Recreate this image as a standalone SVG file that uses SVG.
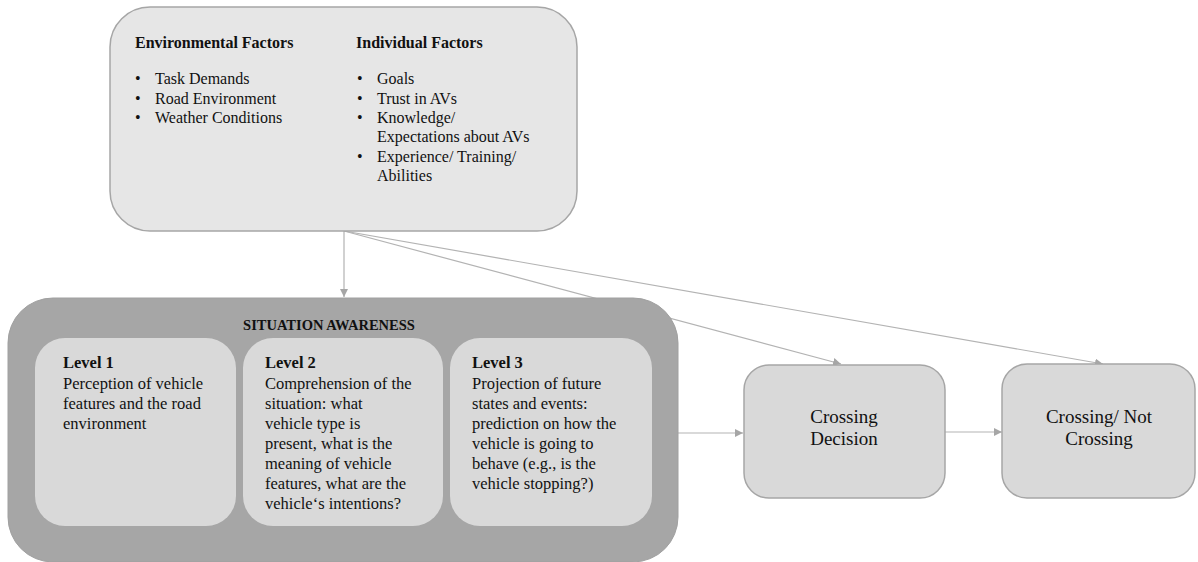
<svg xmlns="http://www.w3.org/2000/svg" width="1198" height="562" viewBox="0 0 1198 562" font-family="'Liberation Serif', 'Times New Roman', Times, serif">
<style>
text{font-family:'Liberation Serif','Times New Roman',Times,serif;fill:#111;}
.b{font-weight:bold;}
.f{font-size:16px;}
.lv{font-size:16.5px;}
.big{font-size:19px;text-anchor:middle;}
.conn{stroke:#b3b3b3;stroke-width:1.2;fill:none;marker-end:url(#ah);}
</style>
<defs>
<marker id="ah" viewBox="0 0 10 10" refX="10" refY="5" markerWidth="8" markerHeight="8" markerUnits="userSpaceOnUse" orient="auto">
<path d="M0,0 L10,5 L0,10 z" fill="#a6a6a6"/>
</marker>
</defs>
<g id="connectors">
<line class="conn" x1="344" y1="231" x2="344" y2="297"/>
<line class="conn" x1="344" y1="231" x2="841" y2="364"/>
<line class="conn" x1="344" y1="231" x2="1103" y2="364"/>
<line class="conn" x1="678" y1="433" x2="743" y2="433"/>
<line class="conn" x1="945" y1="432" x2="1002" y2="432"/>
</g>
<g id="factors">
<rect x="110" y="7" width="467" height="224" rx="40" fill="#e6e6e6" stroke="#a6a6a6" stroke-width="1.5"/>
<text class="b f" x="135" y="48">Environmental Factors</text>
<text class="f" x="135" y="84">•</text><text class="f" x="155" y="84">Task Demands</text>
<text class="f" x="135" y="104">•</text><text class="f" x="155" y="104">Road Environment</text>
<text class="f" x="135" y="123">•</text><text class="f" x="155" y="123">Weather Conditions</text>
<text class="b f" x="356" y="48">Individual Factors</text>
<text class="f" x="357" y="84">•</text><text class="f" x="377" y="84">Goals</text>
<text class="f" x="357" y="104">•</text><text class="f" x="377" y="104">Trust in AVs</text>
<text class="f" x="357" y="123">•</text><text class="f" x="377" y="123">Knowledge/</text>
<text class="f" x="377" y="142">Expectations about AVs</text>
<text class="f" x="357" y="162">•</text><text class="f" x="377" y="162">Experience/ Training/</text>
<text class="f" x="377" y="181">Abilities</text>
</g>
<g id="situation-awareness">
<rect x="8" y="298" width="670" height="264" rx="45" fill="#a6a6a6" stroke="#a0a0a0" stroke-width="1"/>
<text class="b" x="329" y="330" font-size="14.5" text-anchor="middle">SITUATION AWARENESS</text>
</g>
<g id="level1">
<rect x="35" y="338" width="201" height="188" rx="30" fill="#d9d9d9"/>
<text class="b lv" x="63" y="368">Level 1</text>
<text class="lv" x="63" y="389">Perception of vehicle</text>
<text class="lv" x="63" y="409">features and the road</text>
<text class="lv" x="63" y="429">environment</text>
</g>
<g id="level2">
<rect x="243" y="338" width="200" height="188" rx="30" fill="#d9d9d9"/>
<text class="b lv" x="265" y="368">Level 2</text>
<text class="lv" x="265" y="389">Comprehension of the</text>
<text class="lv" x="265" y="409">situation: what</text>
<text class="lv" x="265" y="429">vehicle type is</text>
<text class="lv" x="265" y="449">present, what is the</text>
<text class="lv" x="265" y="469">meaning of vehicle</text>
<text class="lv" x="265" y="489">features, what are the</text>
<text class="lv" x="265" y="509">vehicle‘s intentions?</text>
</g>
<g id="level3">
<rect x="450" y="338" width="202" height="188" rx="30" fill="#d9d9d9"/>
<text class="b lv" x="472" y="368">Level 3</text>
<text class="lv" x="472" y="389">Projection of future</text>
<text class="lv" x="472" y="409">states and events:</text>
<text class="lv" x="472" y="429">prediction on how the</text>
<text class="lv" x="472" y="449">vehicle is going to</text>
<text class="lv" x="472" y="469">behave (e.g., is the</text>
<text class="lv" x="472" y="489">vehicle stopping?)</text>
</g>
<g id="crossing-decision">
<rect x="744" y="365" width="201" height="133" rx="25" fill="#d9d9d9" stroke="#a6a6a6" stroke-width="1.5"/>
<text class="big" x="844" y="423">Crossing</text>
<text class="big" x="844" y="445">Decision</text>
</g>
<g id="crossing-outcome">
<rect x="1002" y="364" width="193" height="134" rx="25" fill="#d9d9d9" stroke="#a6a6a6" stroke-width="1.5"/>
<text class="big" x="1099" y="423">Crossing/ Not</text>
<text class="big" x="1099" y="445">Crossing</text>
</g>
</svg>
